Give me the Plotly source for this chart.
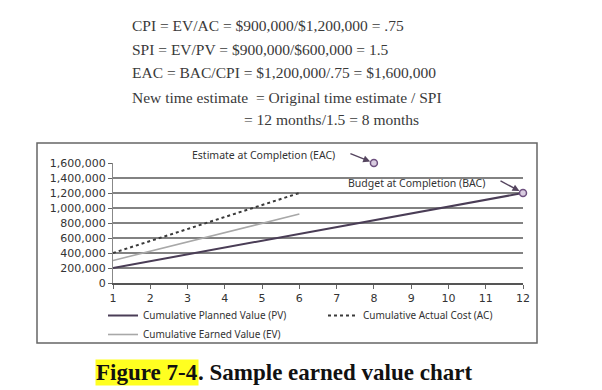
import plotly.graph_objects as go

months = [1, 2, 3, 4, 5, 6, 7, 8, 9, 10, 11, 12]
pv = [200000, 290000, 380000, 470000, 560000, 650000, 740000, 830000, 920000, 1010000, 1100000, 1200000]
ev_months = [1, 2, 3, 4, 5, 6]
ev = [300000, 425000, 550000, 670000, 800000, 920000]
ac_months = [1, 2, 3, 4, 5, 6]
ac = [400000, 560000, 720000, 880000, 1040000, 1200000]
eac_point = (8, 1600000)
bac_point = (12, 1200000)
y_ticks = [0, 200000, 400000, 600000, 800000, 1000000, 1200000, 1400000, 1600000]
formulas = [
    "CPI = EV/AC = $900,000/$1,200,000 = .75",
    "SPI = EV/PV = $900,000/$600,000 = 1.5",
    "EAC = BAC/CPI = $1,200,000/.75 = $1,600,000",
    "New time estimate  = Original time estimate / SPI",
]
formula_last = "= 12 months/1.5 = 8 months"

L, R, T, B = 113, 523, 163, 283
W, H = 602, 390


def px(x):
    return (x - L) / (R - L)


def py(y):
    return (B - y) / (B - T)


fig = go.Figure()
fig.add_trace(go.Scatter(x=months, y=pv, mode="lines", name="Cumulative Planned Value (PV)",
                         line=dict(color="#4a3d56", width=2), legend="legend"))
fig.add_trace(go.Scatter(x=ev_months, y=ev, mode="lines", name="Cumulative Earned Value (EV)",
                         line=dict(color="#a8a8a8", width=1.6), legend="legend"))
fig.add_trace(go.Scatter(x=ac_months, y=ac, mode="lines", name="Cumulative Actual Cost (AC)",
                         line=dict(color="#3a3a3a", width=2, dash="dot"), legend="legend2"))
fig.add_trace(go.Scatter(x=[eac_point[0], bac_point[0]], y=[eac_point[1], bac_point[1]], mode="markers",
                         showlegend=False, cliponaxis=False,
                         marker=dict(symbol="circle", size=7, color="#d9cce0",
                                     line=dict(color="#6d4f7e", width=1.5))))

tick_font = dict(family="DejaVu Sans, Verdana, sans-serif", size=11, color="#333")
fig.update_xaxes(range=[1, 12], tickvals=months, ticks="outside", ticklen=4, tickcolor="#666",
                 showline=True, linecolor="#555", linewidth=1.5, showgrid=False, zeroline=False,
                 tickfont=tick_font)
fig.update_yaxes(range=[0, 1600000], tickvals=y_ticks, tickformat=",d", ticks="outside", ticklen=4,
                 tickcolor="#666", showline=True, linecolor="#888", linewidth=1,
                 showgrid=True, gridcolor="#828282", gridwidth=1.5, zeroline=False,
                 tickfont=tick_font)

ann = []
serif = dict(family="Liberation Serif, Times New Roman, serif", size=15.5, color="#3a3a3a")
ys = [25, 49, 72, 97]
for t, yy in zip(formulas, ys):
    ann.append(dict(xref="paper", yref="paper", x=px(130), y=py(yy), xanchor="left", yanchor="middle",
                    text=t, showarrow=False, font=serif))
ann.append(dict(xref="paper", yref="paper", x=px(242), y=py(119), xanchor="left", yanchor="middle",
                text=formula_last, showarrow=False, font=serif))

lab_font = dict(family="Noto Sans, Open Sans, sans-serif", size=10.5, color="#333")
ann.append(dict(xref="paper", yref="paper", x=px(263), y=py(155), xanchor="center", yanchor="middle",
                text="Estimate at Completion (EAC)", showarrow=False, font=lab_font))
ann.append(dict(xref="paper", yref="paper", x=px(416), y=py(183), xanchor="center", yanchor="middle",
                text="Budget at Completion (BAC)", showarrow=False, font=lab_font))
ann.append(dict(x=eac_point[0], y=eac_point[1], ax=-25, ay=-10, text="", showarrow=True,
                arrowhead=2, arrowsize=1, arrowwidth=1.4, arrowcolor="#55455f", standoff=4))
ann.append(dict(x=bac_point[0], y=bac_point[1], ax=-24, ay=-13, text="", showarrow=True,
                arrowhead=2, arrowsize=1, arrowwidth=1.4, arrowcolor="#55455f", standoff=4))

cap_font = dict(family="Liberation Serif, Times New Roman, serif", size=23, color="#111")
ann.append(dict(xref="paper", yref="paper", x=px(199), y=py(372), xanchor="right", yanchor="middle",
                text="<b>Figure 7-4</b>", showarrow=False, font=cap_font, bgcolor="#ffff20", borderpad=0))
ann.append(dict(xref="paper", yref="paper", x=px(196), y=py(372), xanchor="left", yanchor="middle",
                text="<b>. Sample earned value chart</b>", showarrow=False, font=cap_font))

shapes = [dict(type="rect", xref="paper", yref="paper", x0=px(37), x1=px(537), y0=py(343), y1=py(143),
               line=dict(color="#666", width=1.5), fillcolor="rgba(0,0,0,0)", layer="below")]

leg_font = dict(family="Noto Sans, Open Sans, sans-serif", size=10, color="#333")
fig.update_layout(
    width=W, height=H,
    margin=dict(l=L, r=W - R, t=T, b=H - B),
    paper_bgcolor="white", plot_bgcolor="white",
    annotations=ann, shapes=shapes,
    legend=dict(x=px(103), y=py(301), xanchor="left", yanchor="top", orientation="v",
                font=leg_font, bgcolor="rgba(0,0,0,0)", tracegroupgap=0, itemwidth=30),
    legend2=dict(x=px(323), y=py(301), xanchor="left", yanchor="top", orientation="v",
                 font=leg_font, bgcolor="rgba(0,0,0,0)", itemwidth=30),
)

fig.write_html("out.html", config={"displayModeBar": False},
               post_script="document.body.style.margin='0';")
